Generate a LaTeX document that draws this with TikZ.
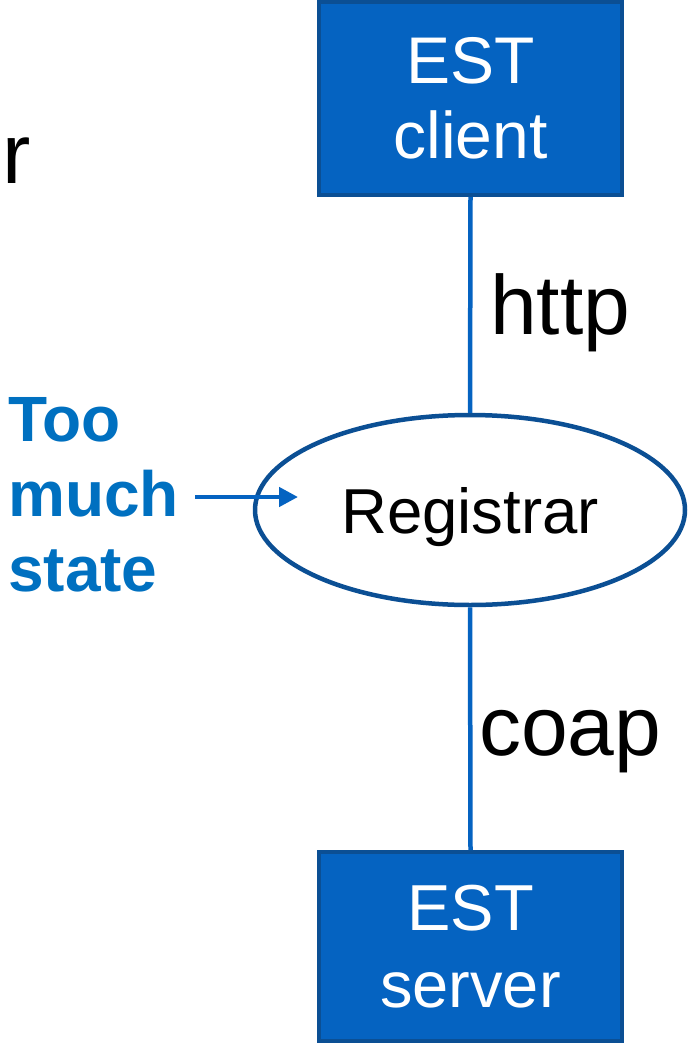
\documentclass[tikz,border=0pt]{standalone}
\usepackage{fontspec}
\setmainfont{Liberation Sans}
\usetikzlibrary{shapes.geometric,arrows.meta}
\definecolor{boxfill}{HTML}{0563C1}
\definecolor{boxdraw}{HTML}{0B4F94}
\definecolor{linkblue}{HTML}{0563C1}
\definecolor{noteblue}{HTML}{0070C0}
\tikzset{
  estbox/.style={draw=boxdraw, fill=boxfill, line width=4pt, text=white, align=center,
    minimum width=303pt, inner sep=0pt},
  regell/.style={ellipse, draw=boxdraw, fill=white, line width=4.5pt, minimum width=430pt,
    minimum height=190pt, inner sep=0pt, text depth=0pt, font=\fontsize{63.5}{70}\selectfont},
  link/.style={draw=linkblue, line width=4.5pt},
  lbl/.style={anchor=base west, inner sep=0pt},
  notearrow/.style={draw=linkblue, line width=4.5pt, -{Triangle[length=19pt,width=19pt]}}
}
\begin{document}
\begin{tikzpicture}[x=1pt,y=1pt]
\useasboundingbox (0,0) rectangle (689,-1046);
\node[estbox, minimum height=193pt, font=\fontsize{66}{75}\selectfont] (client) at (470.5,-98.5) {EST\\client};
\node[estbox, minimum height=189pt, font=\fontsize{65}{77}\selectfont] (server) at (470.5,-946.5) {EST\\server};
\node[regell] (reg) at (470,-510) {Registrar};
\draw[link] (client.south) -- (reg.north);
\draw[link] (reg.south) -- (server.north);
\node[lbl, font=\fontsize{84}{90}\selectfont] (http) at (490,-334) {http};
\node[lbl, font=\fontsize{84}{90}\selectfont] (coap) at (479,-755) {coap};
\node[lbl, font=\fontsize{85}{90}\selectfont] (r) at (2.5,-183) {r};
\node[anchor=west, inner sep=0pt, align=left, text=noteblue, font=\bfseries\fontsize{64}{75}\selectfont] (note) at (8,-495) {Too\\much\\state};
\coordinate (arrs) at (195,-497);
\coordinate (arre) at (298,-497);
\draw[notearrow] (arrs) -- (arre);
\end{tikzpicture}
\end{document}
